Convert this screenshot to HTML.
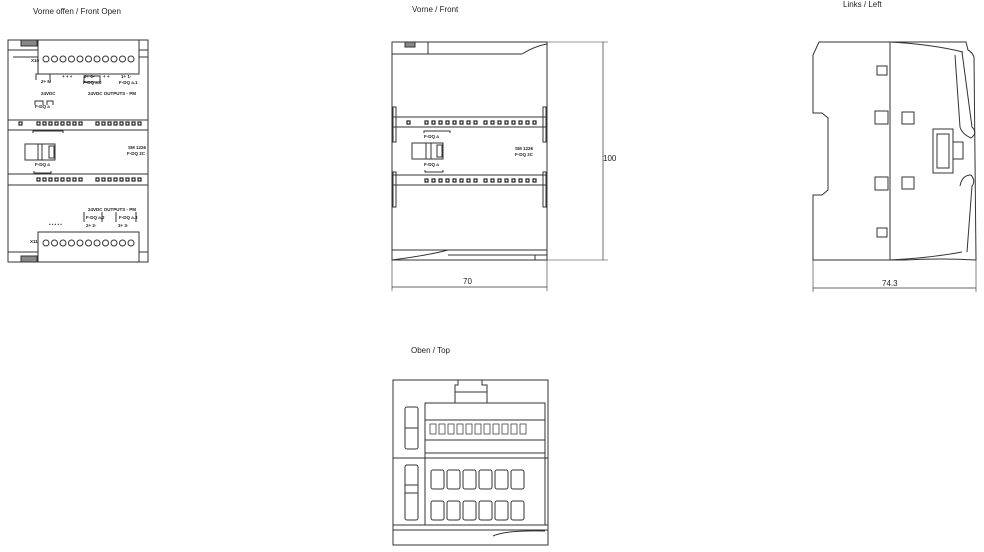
<!DOCTYPE html>
<html><head><meta charset="utf-8"><style>
html,body{margin:0;padding:0;background:#fff;}
svg{display:block;}
text{font-family:"Liberation Sans",sans-serif;fill:#222;}
</style></head><body>
<svg width="984" height="552" viewBox="0 0 984 552" xmlns="http://www.w3.org/2000/svg">
<g fill="none" stroke="#333" stroke-width="1">
<!-- ===== Front Open ===== -->
<rect x="8" y="40" width="140" height="222"/>
<rect x="21" y="40" width="16" height="6" fill="#888"/>
<rect x="21" y="256" width="16" height="6" fill="#888"/>
<rect x="38" y="40" width="101" height="34"/>
<rect x="38" y="232" width="101" height="30"/>
<line x1="8" y1="50" x2="38" y2="50"/><line x1="139" y1="50" x2="148" y2="50"/>
<line x1="13" y1="57" x2="38" y2="57"/><line x1="139" y1="57" x2="148" y2="57"/>
<line x1="8" y1="252" x2="38" y2="252"/><line x1="139" y1="252" x2="148" y2="252"/>
<line x1="8" y1="120" x2="148" y2="120"/><line x1="8" y1="130" x2="148" y2="130"/>
<line x1="8" y1="174" x2="148" y2="174"/><line x1="8" y1="185" x2="148" y2="185"/>
<rect x="25" y="144" width="30" height="16"/>
<line x1="38" y1="144" x2="38" y2="160"/><line x1="42" y1="144" x2="42" y2="160"/>
<rect x="49" y="146" width="5" height="12"/>
<path d="M35 105v-4h8v4M47 105v-4h6v4M36 80v-6h14v6M84 80v-4h16v6h-16z"/>
<path d="M33 133v-2h30v2M34 171v2h17v-2"/>
<path d="M84 212v10M102 212v10M116 212v10M136 212v10"/>
</g>
<g fill="none" stroke="#333" stroke-width="1">
<circle cx="46" cy="59" r="3"/><circle cx="54.5" cy="59" r="3"/><circle cx="63" cy="59" r="3"/><circle cx="71.5" cy="59" r="3"/><circle cx="80" cy="59" r="3"/><circle cx="88.5" cy="59" r="3"/><circle cx="97" cy="59" r="3"/><circle cx="105.5" cy="59" r="3"/><circle cx="114" cy="59" r="3"/><circle cx="122.5" cy="59" r="3"/><circle cx="131" cy="59" r="3"/><circle cx="139.5" cy="59" r="3" style="display:none"/>
<circle cx="46" cy="243" r="3"/><circle cx="54.5" cy="243" r="3"/><circle cx="63" cy="243" r="3"/><circle cx="71.5" cy="243" r="3"/><circle cx="80" cy="243" r="3"/><circle cx="88.5" cy="243" r="3"/><circle cx="97" cy="243" r="3"/><circle cx="105.5" cy="243" r="3"/><circle cx="114" cy="243" r="3"/><circle cx="122.5" cy="243" r="3"/><circle cx="131" cy="243" r="3"/>
</g>
<g fill="none" stroke="#222" stroke-width="1.2">
<rect x="19" y="122" width="3" height="3"/>
<rect x="37" y="122" width="3" height="3"/><rect x="43" y="122" width="3" height="3"/><rect x="49" y="122" width="3" height="3"/><rect x="55" y="122" width="3" height="3"/><rect x="61" y="122" width="3" height="3"/><rect x="67" y="122" width="3" height="3"/><rect x="73" y="122" width="3" height="3"/><rect x="79" y="122" width="3" height="3"/>
<rect x="96" y="122" width="3" height="3"/><rect x="102" y="122" width="3" height="3"/><rect x="108" y="122" width="3" height="3"/><rect x="114" y="122" width="3" height="3"/><rect x="120" y="122" width="3" height="3"/><rect x="126" y="122" width="3" height="3"/><rect x="132" y="122" width="3" height="3"/><rect x="138" y="122" width="3" height="3"/>
<rect x="37" y="178" width="3" height="3"/><rect x="43" y="178" width="3" height="3"/><rect x="49" y="178" width="3" height="3"/><rect x="55" y="178" width="3" height="3"/><rect x="61" y="178" width="3" height="3"/><rect x="67" y="178" width="3" height="3"/><rect x="73" y="178" width="3" height="3"/><rect x="79" y="178" width="3" height="3"/>
<rect x="96" y="178" width="3" height="3"/><rect x="102" y="178" width="3" height="3"/><rect x="108" y="178" width="3" height="3"/><rect x="114" y="178" width="3" height="3"/><rect x="120" y="178" width="3" height="3"/><rect x="126" y="178" width="3" height="3"/><rect x="132" y="178" width="3" height="3"/><rect x="138" y="178" width="3" height="3"/>
</g>
<g font-size="4.5" font-weight="bold">
<text x="31" y="62">X10</text><text x="30" y="243">X11</text>
<text x="41" y="83">2+ M</text><text x="41" y="95">24VDC</text>
<text x="84" y="78">0+ 0-</text><text x="83" y="84">F-DQ a.0</text><text x="88" y="95">24VDC OUTPUTS - PM</text>
<text x="121" y="78">1+ 1-</text><text x="119" y="84">F-DQ a.1</text>
<text x="128" y="149">SM 1226</text><text x="127" y="155">F-DQ 2C</text>
<text x="35" y="108">F-DQ a</text><text x="35" y="166">F-DQ a</text>
<text x="88" y="211">24VDC OUTPUTS - PM</text>
<text x="86" y="219">F-DQ a.2</text><text x="86" y="227">2+ 2-</text>
<text x="119" y="219">F-DQ a.3</text><text x="118" y="227">3+ 3-</text>
<text x="62" y="78">+ + +</text><text x="103" y="78">+ +</text>
<text x="49" y="226">• • • • •</text>
</g>
<!-- ===== Front ===== -->
<g fill="none" stroke="#333" stroke-width="1">
<rect x="392" y="42" width="155" height="218"/>
<rect x="405" y="42" width="10" height="5" fill="#888"/>
<line x1="392" y1="54" x2="522" y2="54"/><path d="M522 54 Q535 46 547 44"/>
<line x1="428" y1="42" x2="428" y2="54"/>
<line x1="392" y1="117" x2="547" y2="117"/><line x1="392" y1="127" x2="547" y2="127"/>
<line x1="392" y1="175" x2="547" y2="175"/><line x1="392" y1="185" x2="547" y2="185"/>
<rect x="393" y="107" width="3" height="35"/><rect x="543" y="107" width="3" height="35"/>
<rect x="393" y="172" width="3" height="35"/><rect x="543" y="172" width="3" height="35"/>
<rect x="412" y="143" width="31" height="16"/>
<line x1="426" y1="143" x2="426" y2="159"/><line x1="431" y1="143" x2="431" y2="159"/>
<rect x="437" y="145" width="5" height="12"/>
<path d="M424 133v-2h26v2M425 170v2h18v-2"/>
<line x1="392" y1="250" x2="547" y2="250"/><path d="M392 260 Q430 255 448 250"/>
<line x1="448" y1="255" x2="547" y2="255"/><rect x="535" y="255" width="12" height="5"/>
<!-- dims -->
<line x1="547" y1="42" x2="608" y2="42" stroke-width="0.6"/>
<line x1="547" y1="260" x2="608" y2="260" stroke-width="0.6"/>
<line x1="603" y1="42" x2="603" y2="260" stroke-width="0.7"/>
<line x1="392" y1="260" x2="392" y2="291" stroke-width="0.6"/>
<line x1="547" y1="260" x2="547" y2="291" stroke-width="0.6"/>
<line x1="392" y1="287" x2="547" y2="287" stroke-width="0.7"/>
</g>
<g fill="none" stroke="#222" stroke-width="1.2">
<rect x="407" y="121" width="3" height="3"/>
<rect x="425" y="121" width="3" height="3"/><rect x="432" y="121" width="3" height="3"/><rect x="439" y="121" width="3" height="3"/><rect x="446" y="121" width="3" height="3"/><rect x="453" y="121" width="3" height="3"/><rect x="460" y="121" width="3" height="3"/><rect x="467" y="121" width="3" height="3"/><rect x="474" y="121" width="3" height="3"/>
<rect x="484" y="121" width="3" height="3"/><rect x="491" y="121" width="3" height="3"/><rect x="498" y="121" width="3" height="3"/><rect x="505" y="121" width="3" height="3"/><rect x="512" y="121" width="3" height="3"/><rect x="519" y="121" width="3" height="3"/><rect x="526" y="121" width="3" height="3"/><rect x="533" y="121" width="3" height="3"/>
<rect x="425" y="179" width="3" height="3"/><rect x="432" y="179" width="3" height="3"/><rect x="439" y="179" width="3" height="3"/><rect x="446" y="179" width="3" height="3"/><rect x="453" y="179" width="3" height="3"/><rect x="460" y="179" width="3" height="3"/><rect x="467" y="179" width="3" height="3"/><rect x="474" y="179" width="3" height="3"/>
<rect x="484" y="179" width="3" height="3"/><rect x="491" y="179" width="3" height="3"/><rect x="498" y="179" width="3" height="3"/><rect x="505" y="179" width="3" height="3"/><rect x="512" y="179" width="3" height="3"/><rect x="519" y="179" width="3" height="3"/><rect x="526" y="179" width="3" height="3"/><rect x="533" y="179" width="3" height="3"/>
</g>
<g font-size="4.5" font-weight="bold">
<text x="515" y="150">SM 1226</text><text x="515" y="156">F-DQ 2C</text>
<text x="424" y="138">F-DQ a</text><text x="424" y="166">F-DQ a</text>
</g>
<!-- ===== Left ===== -->
<g fill="none" stroke="#333" stroke-width="1">
<path d="M819 42 H966 L968 50 Q972 52 974 57 L976 260 Q940 258 905 260 H813 V195 H822 L828 190 V118 L822 113 H813 V55 L819 42 Z"/>
<line x1="890" y1="42" x2="890" y2="260"/>
<path d="M890 42 Q930 44 963 52"/><path d="M890 260 Q930 258 962 252"/>
<path d="M962 52 L972 127 Q978 133 971 138 Q962 134 960 127 L955 55"/>
<path d="M971 175 Q976 181 972 186 L967 252 M960 186 Q962 175 971 175"/>
<rect x="877" y="66" width="10" height="9"/><rect x="875" y="111" width="13" height="13"/>
<rect x="902" y="112" width="12" height="12"/>
<rect x="875" y="177" width="13" height="13"/><rect x="902" y="177" width="12" height="12"/>
<rect x="877" y="228" width="10" height="9"/>
<rect x="933" y="129" width="20" height="44"/><rect x="937" y="134" width="12" height="34"/>
<rect x="953" y="142" width="10" height="17"/>
<line x1="813" y1="260" x2="813" y2="292" stroke-width="0.6"/>
<line x1="976" y1="260" x2="976" y2="292" stroke-width="0.6"/>
<line x1="813" y1="288" x2="976" y2="288" stroke-width="0.7"/>
</g>
<!-- ===== Top ===== -->
<g fill="none" stroke="#333" stroke-width="1">
<rect x="393" y="380" width="155" height="165"/>
<path d="M455 403 V385 H458 V380 H482 V385 H487 V403 Z"/><line x1="455" y1="392" x2="487" y2="392"/>
<rect x="425" y="403" width="120" height="50"/>
<line x1="425" y1="420" x2="545" y2="420"/><line x1="425" y1="440" x2="545" y2="440"/>
<line x1="393" y1="458" x2="548" y2="458"/>
<line x1="425" y1="453" x2="425" y2="525"/><line x1="545" y1="453" x2="545" y2="525"/>
<rect x="405" y="407" width="13" height="42" rx="2"/><line x1="405" y1="428" x2="418" y2="428"/>
<rect x="405" y="465" width="13" height="55" rx="2"/><line x1="405" y1="485" x2="418" y2="485"/><line x1="405" y1="493" x2="418" y2="493"/>
<line x1="393" y1="525" x2="548" y2="525"/><line x1="393" y1="530" x2="548" y2="530"/>
<path d="M493 536 Q505 530 545 531"/>
</g>
<g fill="none" stroke="#333" stroke-width="1">
<rect x="431" y="470" width="13" height="19" rx="2"/><rect x="447" y="470" width="13" height="19" rx="2"/><rect x="463" y="470" width="13" height="19" rx="2"/><rect x="479" y="470" width="13" height="19" rx="2"/><rect x="495" y="470" width="13" height="19" rx="2"/><rect x="511" y="470" width="13" height="19" rx="2"/>
<rect x="431" y="501" width="13" height="19" rx="2"/><rect x="447" y="501" width="13" height="19" rx="2"/><rect x="463" y="501" width="13" height="19" rx="2"/><rect x="479" y="501" width="13" height="19" rx="2"/><rect x="495" y="501" width="13" height="19" rx="2"/><rect x="511" y="501" width="13" height="19" rx="2"/>
</g>
<g fill="none" stroke="#444" stroke-width="0.8">
<rect x="430" y="424" width="6" height="10"/><rect x="439" y="424" width="6" height="10"/><rect x="448" y="424" width="6" height="10"/><rect x="457" y="424" width="6" height="10"/><rect x="466" y="424" width="6" height="10"/><rect x="475" y="424" width="6" height="10"/><rect x="484" y="424" width="6" height="10"/><rect x="493" y="424" width="6" height="10"/><rect x="502" y="424" width="6" height="10"/><rect x="511" y="424" width="6" height="10"/><rect x="520" y="424" width="6" height="10"/>
</g>
<!-- Titles and labels -->
<g font-size="8">
<text x="33" y="14">Vorne offen / Front Open</text>
<text x="412" y="12">Vorne / Front</text>
<text x="843" y="7">Links / Left</text>
<text x="411" y="353">Oben / Top</text>
<text x="603" y="161">100</text>
<text x="463" y="284">70</text>
<text x="882" y="286">74.3</text>
</g>
</svg>
</body></html>
